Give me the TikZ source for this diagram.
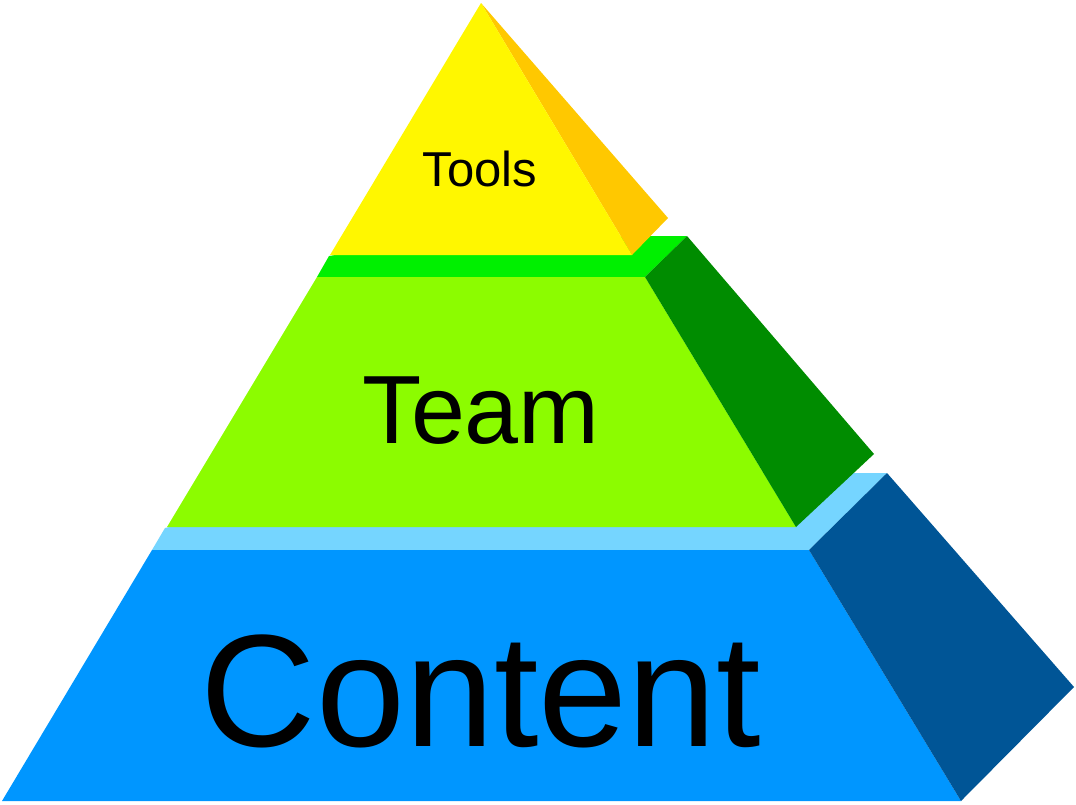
\documentclass[tikz,border=0pt]{standalone}
\usepackage{fontspec}
\setmainfont{Liberation Sans}
\definecolor{toolsfront}{HTML}{FFF700}
\definecolor{toolsside}{HTML}{FFC800}
\definecolor{teamtop}{HTML}{00F000}
\definecolor{teamfront}{HTML}{8CFC00}
\definecolor{teamside}{HTML}{008C00}
\definecolor{contenttop}{HTML}{75D5FF}
\definecolor{contentfront}{HTML}{0096FF}
\definecolor{contentside}{HTML}{005596}
\begin{document}
\begin{tikzpicture}[x=1pt,y=-1pt]
  \useasboundingbox (0,0) rectangle (1076,804);
  % bottom layer
  \fill[contenttop] (152,550) -- (809,550) -- (887,473) -- (400,473) -- (165,528) -- cycle;
  \fill[contentfront] (152,550) -- (809,550) -- (961,801) -- (2,801) -- cycle;
  \fill[contentside] (809,550) -- (887,473) -- (1074,687) -- (961,801) -- cycle;
  % middle layer
  \fill[teamtop] (317,277) -- (645,277) -- (687,236) -- (450,236) -- (329,256) -- cycle;
  \fill[teamfront] (317,277) -- (645,277) -- (796,527) -- (167,527) -- cycle;
  \fill[teamside] (645,277) -- (687,236) -- (874,454) -- (796,527) -- cycle;
  % top
  \fill[toolsside] (481,3) -- (668,218) -- (632,255) -- cycle;
  \fill[toolsfront] (481,3) -- (632,255) -- (330,255) -- cycle;
  \node[anchor=base,inner sep=0pt,font=\fontsize{49}{49}\selectfont] (tools) at (480,186) {Tools};
  \node[anchor=base,inner sep=0pt,font=\fontsize{97}{97}\selectfont] (team) at (481,443) {Team};
  \node[anchor=base,inner sep=0pt,font=\fontsize{160}{160}\selectfont] (content) at (481,746) {Content};
\end{tikzpicture}
\end{document}
